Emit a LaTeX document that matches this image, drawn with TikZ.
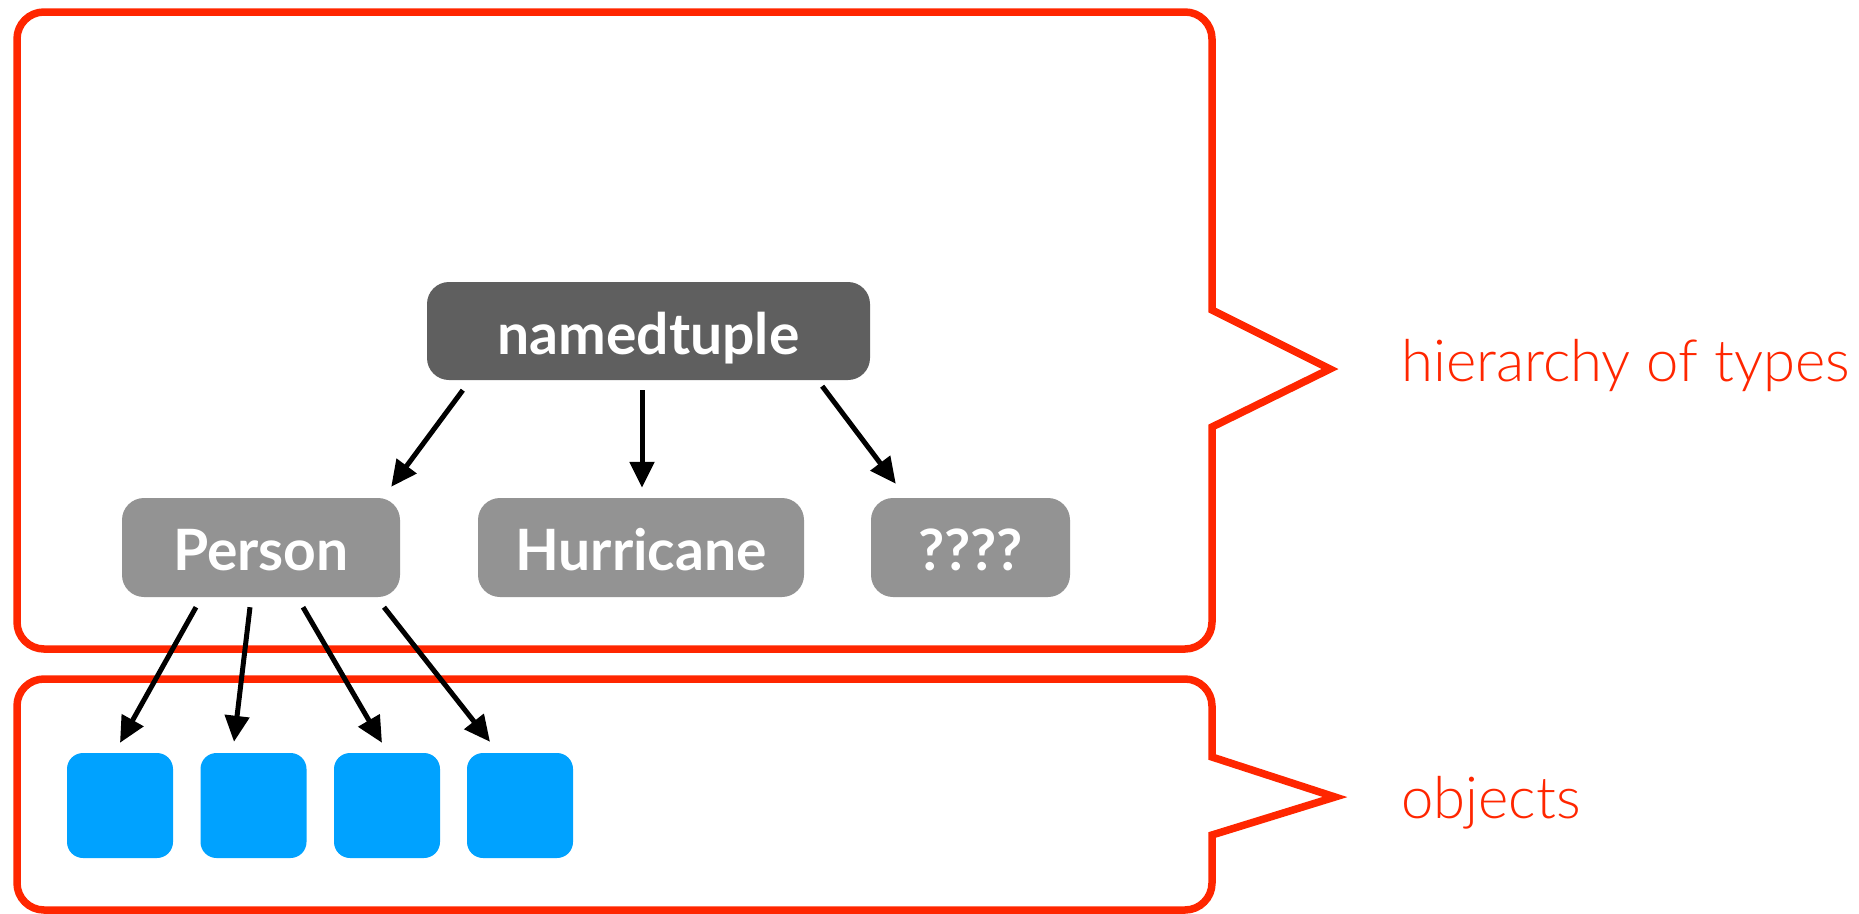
\documentclass[tikz,border=0pt]{standalone}
\usepackage{fontspec}
\setmainfont{Lato}
\newfontfamily\lightfont{Lato Light}
\usetikzlibrary{arrows.meta,calc}
\definecolor{kred}{RGB}{255,38,0}
\definecolor{kblue}{RGB}{0,162,255}
\definecolor{dgray}{RGB}{95,95,95}
\definecolor{lgray}{RGB}{147,147,147}
\begin{document}
\begin{tikzpicture}[x=1pt,y=-1pt,
  typebox/.style={rounded corners=22pt, inner sep=0pt, text=white, text height=46pt, text depth=0pt,
    font=\fontsize{57}{62}\selectfont\bfseries},
  objbox/.style={fill=kblue, rounded corners=16pt, minimum width=106pt, minimum height=105pt, inner sep=0pt},
  arr/.style={line width=5pt, -{Triangle[length=26pt,width=24pt]}},
  frame/.style={draw=kred, line width=7.5pt, line join=miter},
  lbl/.style={text=kred, font=\lightfont\fontsize{58}{64}\selectfont, anchor=base west, inner sep=0pt}]
\useasboundingbox (0,0) rectangle (1859,913);
% red frames with callout points
\draw[frame] (44,12) -- (1185,12) arc[start angle=-90, end angle=0, radius=27]
  -- (1212,310) -- (1330,369) -- (1212,427) -- (1212,622)
  arc[start angle=0, end angle=90, radius=27] -- (44,649)
  arc[start angle=90, end angle=180, radius=27] -- (17,39)
  arc[start angle=180, end angle=270, radius=27] -- cycle;
\draw[frame] (44,679) -- (1185,679) arc[start angle=-90, end angle=0, radius=27]
  -- (1212,757) -- (1335,797) -- (1212,835) -- (1212,883)
  arc[start angle=0, end angle=90, radius=27] -- (44,910)
  arc[start angle=90, end angle=180, radius=27] -- (17,706)
  arc[start angle=180, end angle=270, radius=27] -- cycle;
% type nodes
\node[typebox, fill=dgray, minimum width=443pt, minimum height=98pt] (nt) at (648.5,331) {namedtuple};
\node[typebox, fill=lgray, minimum width=278pt, minimum height=99pt] (person) at (261,547.5) {Person};
\node[typebox, fill=lgray, minimum width=326pt, minimum height=99pt] (hur) at (641,547.5) {Hurricane};
\node[typebox, fill=lgray, minimum width=199pt, minimum height=99pt] (q) at (970.5,547.5) {????};
% objects
\node[objbox] (o1) at (120,805.5) {};
\node[objbox] (o2) at (253.5,805.5) {};
\node[objbox] (o3) at (387,805.5) {};
\node[objbox] (o4) at (520,805.5) {};
% arrows
\draw[arr] ($(nt.south west)+(36,10)$) -- ($(person.north east)+(-9,-11)$);
\draw[arr] ($(hur.north |- nt.south)+(1,10)$) -- ($(hur.north)+(1,-10)$);
\draw[arr] ($(nt.south east)+(-48,6)$) -- ($(q.north west)+(25,-14)$);
\draw[arr] ($(person.south)+(-65,10)$) -- ($(o1.north)+(0,-10)$);
\draw[arr] ($(person.south)+(-11,10)$) -- ($(o2.north)+(-19.5,-11)$);
\draw[arr] ($(person.south)+(42,10)$) -- ($(o3.north)+(-5,-10)$);
\draw[arr] ($(person.south)+(123,10)$) -- ($(o4.north)+(-30,-11)$);
% labels
\node[lbl] (h) at (1401,381) {hierarchy of types};
\node[lbl] (ob) at (1401,818) {objects};
\end{tikzpicture}
\end{document}
